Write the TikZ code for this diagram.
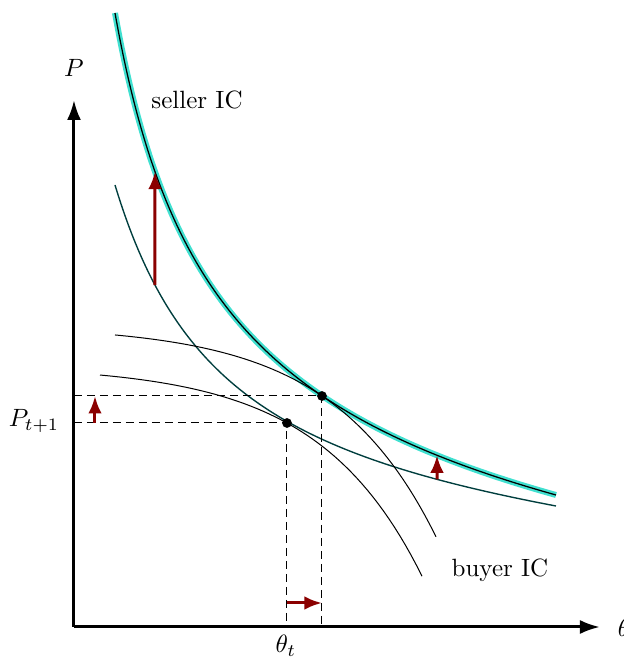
\documentclass[tikz,border=0pt]{standalone}
\usetikzlibrary{arrows.meta, intersections}
\definecolor{icteal}{RGB}{0,62,62}
\definecolor{icband}{RGB}{64,224,208}
\definecolor{shiftred}{RGB}{139,0,0}

\begin{document}
\begin{tikzpicture}[x=4pt, y=4pt,
  axis/.style={line width=1.2pt, -{Latex[length=8pt, width=5.6pt]}},
  guide/.style={line width=0.4pt, dash pattern=on 3.2pt off 2pt},
  moves/.style={-{Latex[length=7pt, width=5.4pt]}, line width=1.2pt, shiftred},
  buyer/.style={line width=0.4pt, black},
  seller/.style={line width=0.55pt, icteal},
  band/.style={line width=2.4pt, icband},
  eqpt/.style={circle, fill=black, inner sep=0pt, minimum size=3.9pt}
]
  \useasboundingbox (-7.4,-3.1) rectangle (55.0,62.7);
  \clip (-7.4,-3.1) rectangle (55.0,62.7);

  % axes
  \coordinate (O) at (0,0);
  \coordinate (xend) at (52.6,0);
  \coordinate (yend) at (0,52.7);
  \draw[axis] (O) -- (xend);
  \draw[axis] (O) -- (yend);
  \node (plbl) at (0,55.9) {$P$};
  \node (thetalbl) at (55.0,-0.1) {$\theta$};

  % seller IC, before and after
  \draw[band] (4.1,61.4) .. controls (9.16,33.1) and (19.06,21.36) .. (48.2,13.2);
  \draw[line width=0.5pt, name path=sellernew]
    (4.1,61.4) .. controls (9.16,33.1) and (19.06,21.36) .. (48.2,13.2);
  \draw[seller, name path=sellerold]
    (4.1,44.2) .. controls (10.2,24.06) and (20.85,17.3) .. (48.2,12.1);

  % buyer IC, before and after
  \draw[buyer] plot[domain=4.1:36.2, samples=60] (\x, {30.17-0.651*exp(\x/10.4)});
  \draw[buyer] plot[domain=2.6:34.8, samples=60] (\x, {26.15-0.742*exp(\x/10.4)});

  % equilibria
  \coordinate (eqnew) at (24.8,23.1);
  \coordinate (eqold) at (21.3,20.4);
  \coordinate (pnew) at (0,23.1);
  \coordinate (pold) at (0,20.4);
  \coordinate (tnew) at (24.8,0);
  \coordinate (told) at (21.3,0);
  \draw[guide] (pnew) -- (eqnew) -- (tnew);
  \draw[guide] (pold) -- (eqold) -- (told);
  \node[eqpt] (dotnew) at (eqnew) {};
  \node[eqpt] (dotold) at (eqold) {};

  % shifts
  \path[name path=cutleft] (8.1,0) -- (8.1,62);
  \path[name path=cutright] (36.3,0) -- (36.3,62);
  \path[name intersections={of=cutleft and sellerold, by=s1a}];
  \path[name intersections={of=cutleft and sellernew, by=s1b}];
  \path[name intersections={of=cutright and sellerold, by=s2a}];
  \path[name intersections={of=cutright and sellernew, by=s2b}];
  \coordinate (s3a) at (2.1,20.4);
  \coordinate (s3b) at (2.1,23.1);
  \coordinate (s4a) at (21.3,2.4);
  \coordinate (s4b) at (24.8,2.4);
  \draw[moves] (s1a) -- (s1b);
  \draw[moves] (s2a) -- (s2b);
  \draw[moves] (s3a) -- (s3b);
  \draw[moves] (s4a) -- (s4b);

  % labels
  \node (ptlbl) at (-4.0,20.6) {$P_{t+1}$};
  \node (thetat) at (21.2,-1.9) {$\theta_t$};
  \node (sellerlbl) at (12.3,52.7) {seller IC};
  \node (buyerlbl) at (42.6,5.7) {buyer IC};
\end{tikzpicture}
\end{document}
